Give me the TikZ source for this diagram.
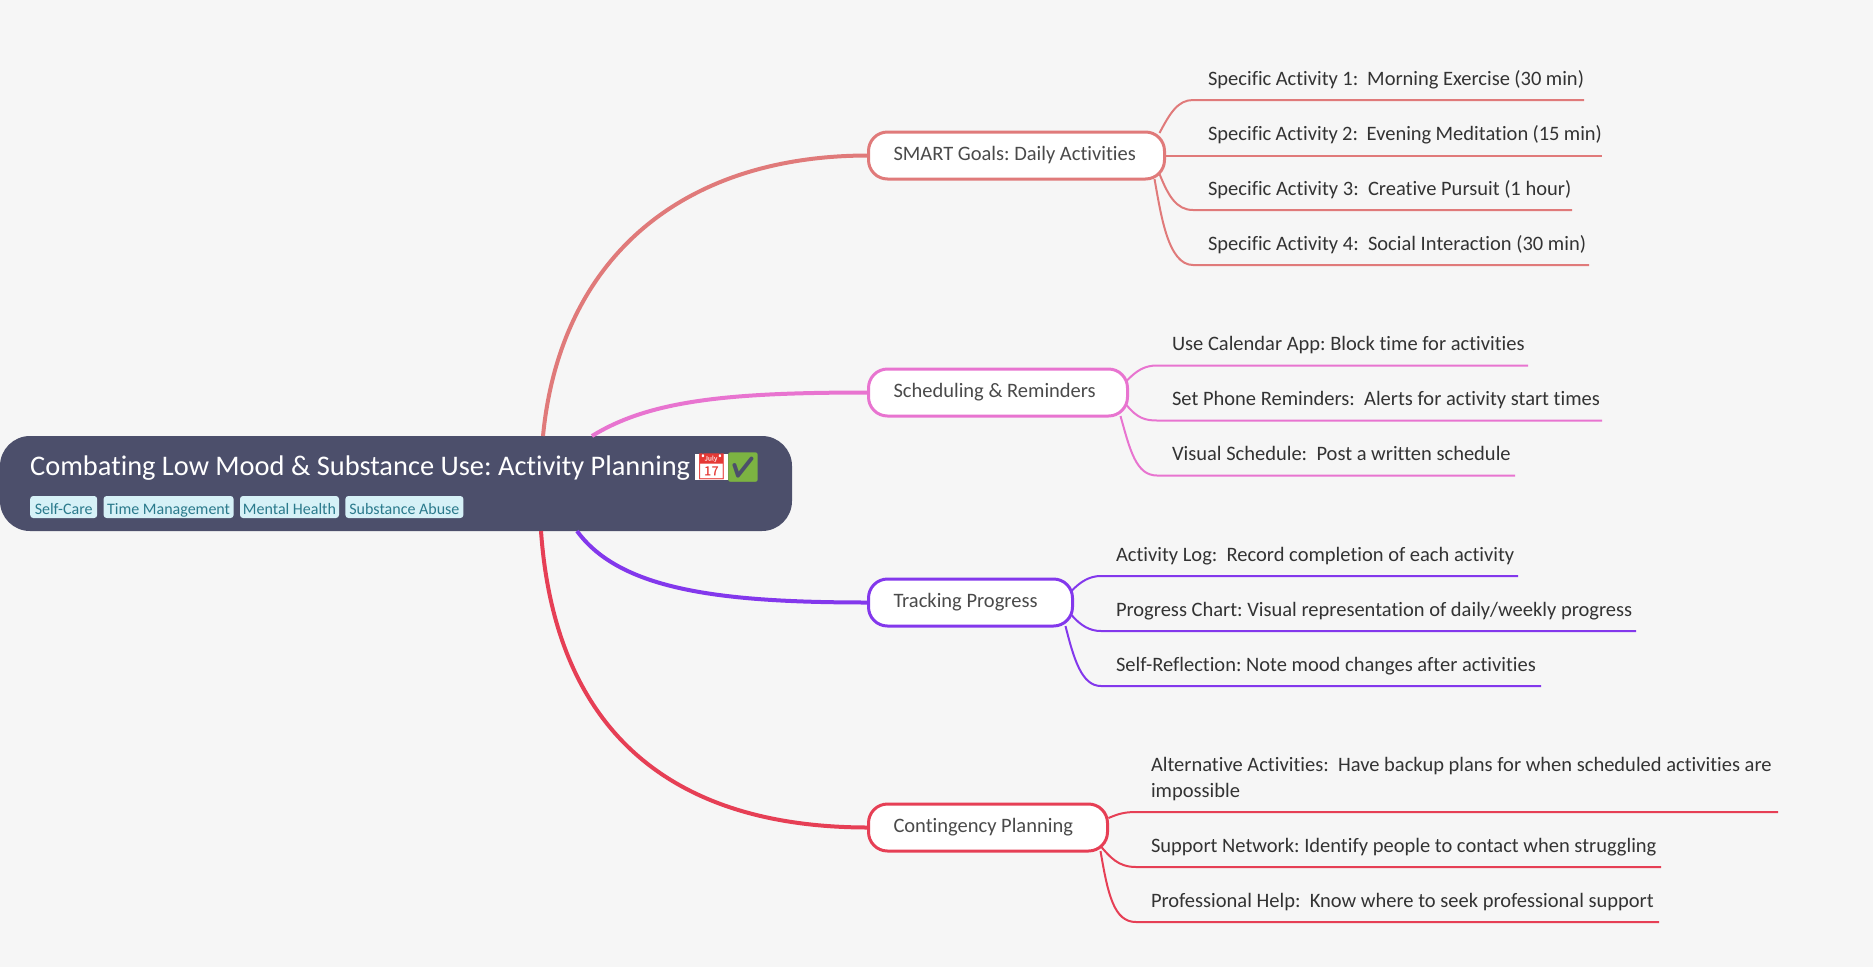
\documentclass[tikz,border=0pt]{standalone}
\usepackage{fontspec}
\setmainfont{Carlito}[Ligatures=NoCommon]
\newfontfamily\emojifont{Noto Emoji}
\usetikzlibrary{positioning}
\definecolor{pagegray}{HTML}{F6F6F6}
\definecolor{rootslate}{HTML}{4C4F6B}
\definecolor{tagblue}{HTML}{D6F1F7}
\definecolor{tagteal}{HTML}{2B7A8C}
\definecolor{smartred}{HTML}{E07A7A}
\definecolor{schedpink}{HTML}{E874D0}
\definecolor{trackviolet}{HTML}{8338EC}
\definecolor{contred}{HTML}{E63F55}
\definecolor{leafink}{HTML}{333333}
\definecolor{branchink}{HTML}{4A4A4A}
\definecolor{calred}{HTML}{E53935}
\definecolor{checkgreen}{HTML}{7CB342}

\begin{document}
\frenchspacing
\begin{tikzpicture}[
		x=1pt, y=-1pt,
		rootnode/.style={fill=rootslate, rounded corners=30pt, minimum width=792pt, minimum height=95pt, anchor=west, inner sep=0pt, outer sep=0pt},
		tagnode/.style={fill=tagblue, text=tagteal, rounded corners=3pt, minimum height=22pt, inner sep=0pt, text height=15pt, text depth=0pt, font=\fontsize{16}{20}\selectfont},
		emojinode/.style={anchor=center, inner sep=0pt, font=\fontsize{29}{29}\emojifont},
		branchnode/.style={fill=white, line width=3pt, rounded corners=19pt, minimum height=47pt, anchor=west, align=flush left, inner xsep=25pt, inner ysep=0pt, outer sep=0pt, text=branchink, font=\fontsize{20.5}{26}\selectfont},
		leafnode/.style={anchor=south west, align=flush left, inner xsep=0pt, inner ysep=10pt, outer sep=0pt, text depth=5pt, text=leafink, font=\fontsize{20.5}{26}\selectfont},
		mainline/.style={line width=4pt},
		leafline/.style={line width=2pt},
	]
	\fill[pagegray] (0,0) rectangle (1873,967);
	\useasboundingbox (0,0) rectangle (1873,967);

	%Nodes
	\node[rootnode]	(root)	at (0,483.5) {};
	\node[anchor=base west, inner sep=0pt, text=white, font=\fontsize{28.4}{36}\selectfont]	(title)	at (30,475) {Combating Low Mood \& Substance Use: Activity Planning};
	\node[emojinode, fill=white, text=calred, font=\fontsize{25.5}{26}\emojifont]	(calendar)	at (711.5,467)	{📅};
	\node[emojinode, text=checkgreen]	(check)	at (743,468)	{✅};
	\node[tagnode, minimum width=67pt, anchor=west]	(tag1)	at (30,507)	{Self-Care};
	\node[tagnode, minimum width=130pt, right=6pt of tag1]	(tag2)	{Time Management};
	\node[tagnode, minimum width=99pt, right=6pt of tag2]	(tag3)	{Mental Health};
	\node[tagnode, minimum width=118pt, right=6pt of tag3]	(tag4)	{Substance Abuse};

	\node[branchnode, draw=smartred, text width=246pt]	(smart)	at (868.5,155.5)	{SMART Goals: Daily Activities};
	\node[branchnode, draw=schedpink, text width=209pt]	(sched)	at (868.5,392.5)	{Scheduling \& Reminders};
	\node[branchnode, draw=trackviolet, text width=154pt]	(track)	at (868.5,602.5)	{Tracking Progress};
	\node[branchnode, draw=contred, text width=189pt]	(cont)	at (868.5,827.5)	{Contingency Planning};

	\node[leafnode, text width=376pt]	(smart1)	at (1208,100)	{Specific Activity 1:~~Morning Exercise (30 min)};
	\node[leafnode, text width=394pt]	(smart2)	at (1208,155.5)	{Specific Activity 2:~~Evening Meditation (15 min)};
	\node[leafnode, text width=364pt]	(smart3)	at (1208,210)	{Specific Activity 3:~~Creative Pursuit (1 hour)};
	\node[leafnode, text width=381pt]	(smart4)	at (1208,265)	{Specific Activity 4:~~Social Interaction (30 min)};

	\node[leafnode, text width=356pt]	(sched1)	at (1172,365.5)	{Use Calendar App: Block time for activities};
	\node[leafnode, text width=430pt]	(sched2)	at (1172,420.5)	{Set Phone Reminders:~~Alerts for activity start times};
	\node[leafnode, text width=343pt]	(sched3)	at (1172,475.5)	{Visual Schedule:~~Post a written schedule};

	\node[leafnode, text width=402pt]	(track1)	at (1116,576)	{Activity Log:~~Record completion of each activity};
	\node[leafnode, text width=520pt]	(track2)	at (1116,631)	{Progress Chart: Visual representation of daily/weekly progress};
	\node[leafnode, text width=425pt]	(track3)	at (1116,686)	{Self-Reflection: Note mood changes after activities};

	\node[leafnode, text width=627pt, text depth=31pt]	(cont1)	at (1151,812)	{Alternative Activities:~~Have backup plans for when scheduled activities are\\impossible};
	\node[leafnode, text width=510pt]	(cont2)	at (1151,867)	{Support Network: Identify people to contact when struggling};
	\node[leafnode, text width=508pt]	(cont3)	at (1151,922)	{Professional Help:~~Know where to seek professional support};

	%Lines
	\draw[mainline, smartred]	([xshift=147pt]root.north) .. controls (560,260) and (680,155.5) .. (smart.west);
	\draw[mainline, schedpink]	([xshift=196pt]root.north) .. controls (650,400) and (730,392.5) .. (sched.west);
	\draw[mainline, trackviolet]	([xshift=181pt]root.south) .. controls (620,590) and (720,602.5) .. (track.west);
	\draw[mainline, contred]	([xshift=145pt]root.south) .. controls (555,730) and (670,827.5) .. (cont.west);

	\draw[leafline, smartred]	([xshift=-5pt,yshift=-1pt]smart.north east) .. controls (1170,113) and (1178,100) .. ([xshift=-15pt]smart1.south west) -- (smart1.south east);
	\draw[leafline, smartred]	(smart.east) -- (smart2.south east);
	\draw[leafline, smartred]	([xshift=-5pt,yshift=5pt]smart.south east) .. controls (1168,195) and (1176,210) .. ([xshift=-15pt]smart3.south west) -- (smart3.south east);
	\draw[leafline, smartred]	([xshift=-10pt]smart.south east) .. controls (1161,215) and (1168,265) .. ([xshift=-15pt]smart4.south west) -- (smart4.south east);

	\draw[leafline, schedpink]	([xshift=-1pt,yshift=-12pt]sched.north east) .. controls (1137,370) and (1145,365.5) .. ([xshift=-15pt]sched1.south west) -- (sched1.south east);
	\draw[leafline, schedpink]	([xshift=-1pt,yshift=11pt]sched.south east) .. controls (1137,418) and (1145,420.5) .. ([xshift=-15pt]sched2.south west) -- (sched2.south east);
	\draw[leafline, schedpink]	([xshift=-7pt]sched.south east) .. controls (1130,450) and (1136,475.5) .. ([xshift=-15pt]sched3.south west) -- (sched3.south east);

	\draw[leafline, trackviolet]	([xshift=-1pt,yshift=-12pt]track.north east) .. controls (1081,581) and (1090,576) .. ([xshift=-15pt]track1.south west) -- (track1.south east);
	\draw[leafline, trackviolet]	([xshift=-1pt,yshift=11pt]track.south east) .. controls (1081,626) and (1090,631) .. ([xshift=-15pt]track2.south west) -- (track2.south east);
	\draw[leafline, trackviolet]	([xshift=-7pt]track.south east) .. controls (1074,660) and (1082,686) .. ([xshift=-15pt]track3.south west) -- (track3.south east);

	\draw[leafline, contred]	([xshift=1pt,yshift=-14pt]cont.north east) .. controls (1118,814) and (1124,812) .. ([xshift=-15pt]cont1.south west) -- (cont1.south east);
	\draw[leafline, contred]	([xshift=-7pt,yshift=5pt]cont.south east) .. controls (1110,857) and (1118,867) .. ([xshift=-15pt]cont2.south west) -- (cont2.south east);
	\draw[leafline, contred]	([xshift=-7pt]cont.south east) .. controls (1108,895) and (1114,922) .. ([xshift=-15pt]cont3.south west) -- (cont3.south east);

\end{tikzpicture}
\end{document}
